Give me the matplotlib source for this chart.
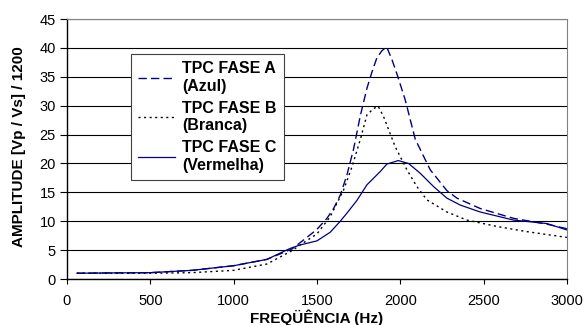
import matplotlib
matplotlib.use("Agg")
import matplotlib.pyplot as plt

plt.rcParams['font.family'] = ['Liberation Sans', 'DejaVu Sans']

freq_a = [60, 250, 500, 750, 1000, 1200, 1350, 1440, 1500, 1560, 1600, 1640, 1680, 1720, 1760, 1800, 1830, 1860, 1890, 1918,
          1950, 1980, 2030, 2090, 2180, 2280, 2340, 2480, 2680, 2880, 3000]
amp_a = [1.0, 1.05, 1.1, 1.5, 2.3, 3.4, 5.2, 7.2, 8.6, 10.5, 12.2, 14.5, 18.0, 22.5, 28.2, 33.0, 35.8, 38.3, 39.5, 40.2,
         38.0, 35.5, 31.0, 24.2, 18.9, 15.3, 14.0, 12.2, 10.5, 9.5, 8.7]

freq_b = [60, 250, 500, 750, 1000, 1200, 1350, 1400, 1500, 1580, 1660, 1710, 1760, 1800, 1840, 1868,
          1900, 1970, 2040, 2100, 2160, 2280, 2400, 2580, 2760, 3000]
amp_b = [1.0, 1.0, 1.0, 1.1, 1.5, 2.6, 4.9, 5.9, 7.8, 10.8, 15.4, 19.4, 24.1, 28.4, 29.5, 29.9,
         28.1, 22.9, 18.9, 16.0, 13.7, 11.6, 10.2, 9.1, 8.2, 7.2]

freq_c = [60, 250, 500, 750, 1000, 1200, 1280, 1340, 1400, 1500, 1580, 1640, 1680, 1740, 1800, 1880, 1920, 1988,
          2050, 2120, 2200, 2280, 2360, 2480, 2680, 2880, 3000]
amp_c = [1.0, 1.05, 1.1, 1.5, 2.3, 3.4, 4.5, 5.3, 5.9, 6.6, 8.1, 10.0, 11.4, 13.6, 16.3, 18.6, 19.9, 20.5,
         20.0, 18.3, 16.0, 14.0, 12.8, 11.6, 10.2, 9.6, 8.5]

labels = ["TPC FASE A\n(Azul)", "TPC FASE B\n(Branca)", "TPC FASE C\n(Vermelha)"]
x_ticks = [0, 500, 1000, 1500, 2000, 2500, 3000]
y_ticks = [0, 5, 10, 15, 20, 25, 30, 35, 40, 45]

navy = "#000080"

fig = plt.figure(figsize=(5.85, 3.25), dpi=100)
ax = fig.add_axes([0.1145, 0.1415, 0.8545, 0.80])

ax.plot(freq_a, amp_a, color=navy, lw=1.0, ls=(0, (6, 3)), label=labels[0])
ax.plot(freq_b, amp_b, color="black", lw=1.0, ls=(0, (1.5, 2.5)), label=labels[1])
ax.plot(freq_c, amp_c, color=navy, lw=0.9, ls="-", label=labels[2])

ax.set_xlim(0, 3000)
ax.set_ylim(0, 45)
ax.set_xticks(x_ticks)
ax.set_yticks(y_ticks)
ax.yaxis.grid(True, color="black", lw=0.8)
ax.set_axisbelow(True)
ax.tick_params(axis='x', direction='out', length=3.5, width=0.8, labelsize=10.5, pad=7)
ax.tick_params(axis='y', direction='out', length=5, width=0.8, labelsize=10.5, pad=3)
for side in ["left", "bottom"]:
    ax.spines[side].set_color("black")
    ax.spines[side].set_linewidth(1.0)
for side in ["top", "right"]:
    ax.spines[side].set_color("#808080")
    ax.spines[side].set_linewidth(0.8)

ax.set_xlabel("FREQÜÊNCIA (Hz)", fontsize=11, fontweight="bold")
ax.xaxis.label.set_va("baseline")
ax.xaxis.set_label_coords(0.5, -0.169)
ax.set_ylabel("AMPLITUDE [Vp / Vs] / 1200", fontsize=11, fontweight="bold")
ax.yaxis.label.set_va("center")
ax.yaxis.set_label_coords(-0.096, 0.51)

leg = ax.legend(loc="upper left", bbox_to_anchor=(0.128, 0.865), prop={'weight': 'bold', 'size': 11.5},
                frameon=True, fancybox=False, edgecolor="#404040", framealpha=1,
                handlelength=2.3, handletextpad=0.45, labelspacing=0.45, borderpad=0.45,
                borderaxespad=0)
leg.get_frame().set_linewidth(0.8)

fig.savefig("out.png", dpi=100)
